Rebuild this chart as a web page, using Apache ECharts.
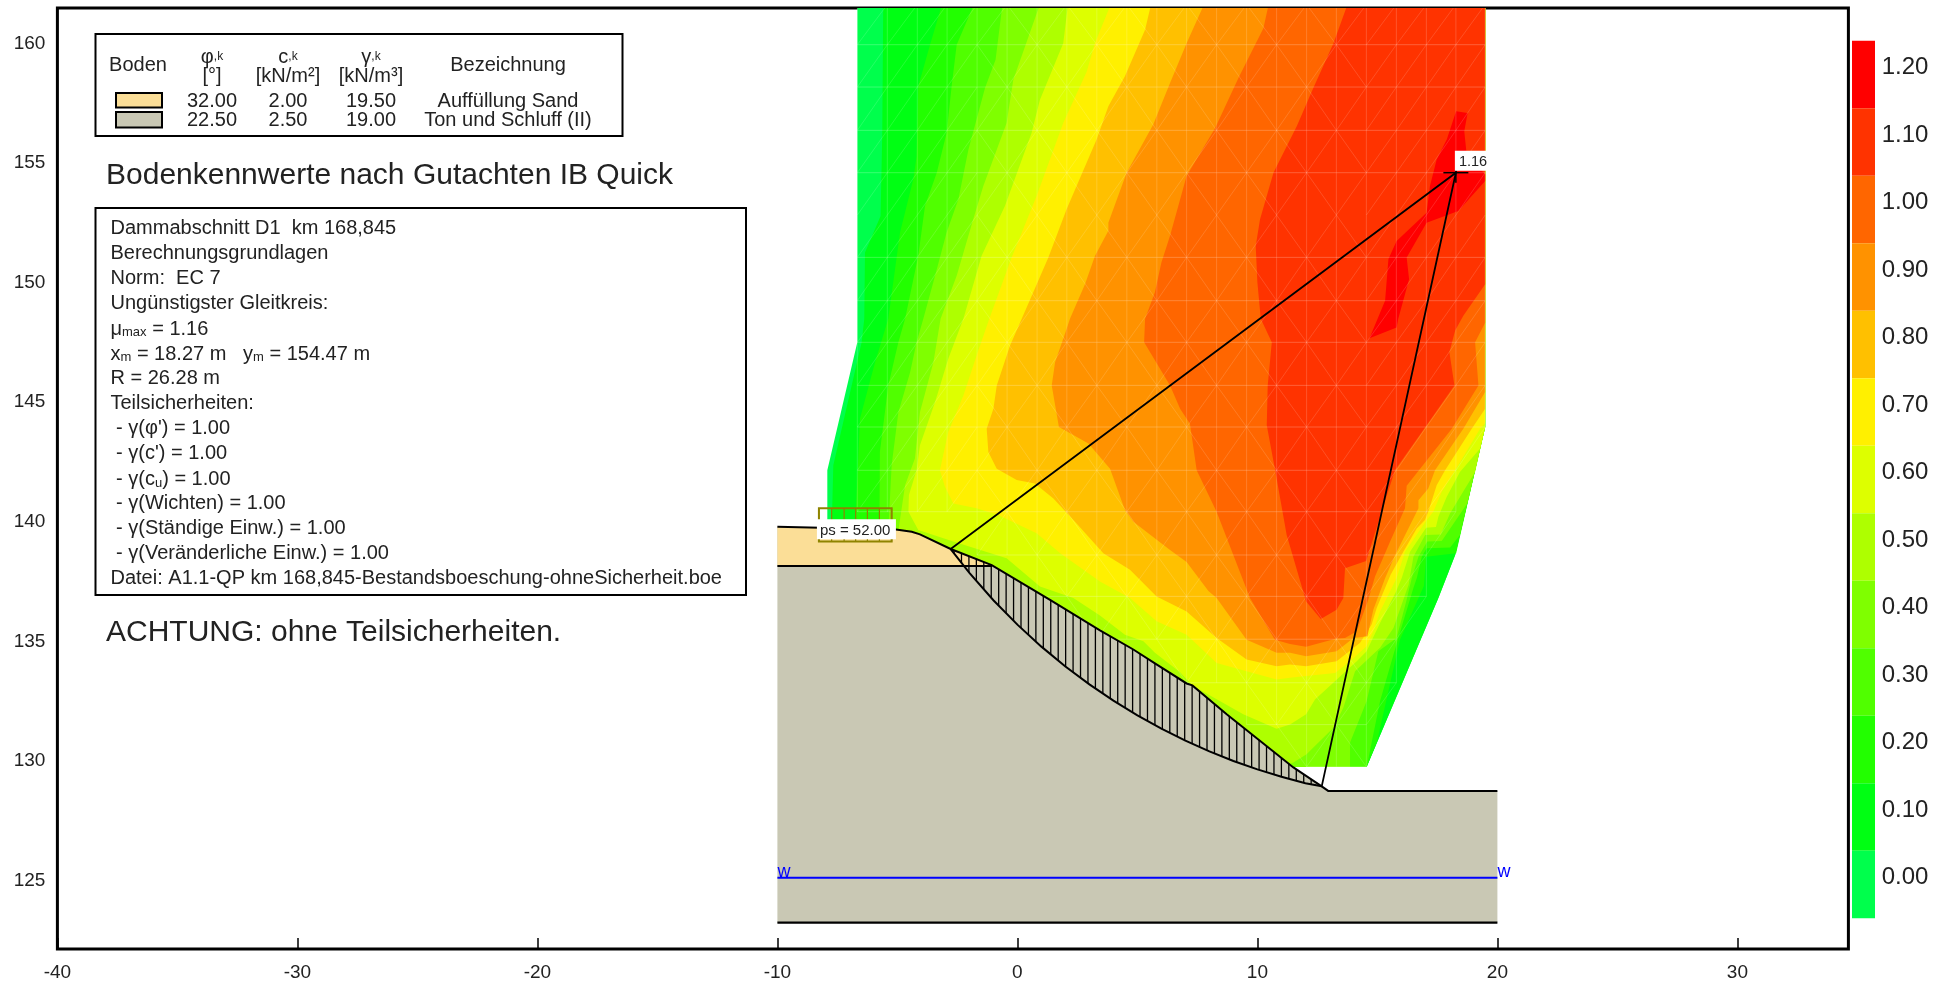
<!DOCTYPE html>
<html><head><meta charset="utf-8">
<style>html,body{margin:0;padding:0;background:#fff}#c{width:1959px;height:982px}</style>
<script src="https://cdn.jsdelivr.net/npm/echarts@6/dist/echarts.min.js"></script>
</head><body><div id="c"></div>
<script>
const xTicks=[-40,-30,-20,-10,0,10,20,30];
const yTicks=[125,130,135,140,145,150,155,160];
const bandLabels=['0.00','0.10','0.20','0.30','0.40','0.50','0.60','0.70','0.80','0.90','1.00','1.10','1.20'];
const bandColors=['#00FF4C','#00FF13','#22FF00','#50FF00','#7FFF00','#AEFF00','#DDFF00','#FFF000','#FFC000','#FF9200','#FF6600','#FF3300','#FF0000'];

const domain=[[-6.67,161.6],[-6.67,147.38],[-7.92,142.03],[-7.92,139],[11.4,129.5],[11.5,129.63],[14.55,129.63],[17.54,136.69],[18.24,138.49],[19.49,143.84],[19.49,161.6]];
const c010=[[-5.59,161.6],[-5.63,156.13],[-5.70,152.66],[-6.35,151.13],[-6.38,148.36],[-6.49,147.38],[-7.67,142.24],[-7.74,139.5],[11.2,129.7],[11.5,129.63],[14.55,129.63],[17.54,136.69],[18.24,138.49],[19.49,143.84],[19.49,161.6]];
const c020=[[-3.11,161.6],[-3.64,159.82],[-4.13,158.08],[-4.20,155.16],[-4.34,154.19],[-4.89,151.97],[-5.38,148.36],[-5.93,146.55],[-6.56,144.19],[-6.63,142.52],[-6.77,139.5],[11.2,129.7],[11.5,129.63],[14.55,129.63],[14.99,130.72],[15.94,134.95],[16.94,137.2],[17.03,138.42],[18.28,138.56],[19.49,143.84],[19.49,161.6]];
const c030=[[-1.77,161.6],[-2.53,159.82],[-2.74,158.08],[-2.95,156.13],[-3.36,154.47],[-3.85,153.08],[-4.13,151.0],[-4.68,148.36],[-4.96,147.38],[-5.38,145.58],[-5.73,142.8],[-5.75,139.5],[11.2,129.7],[11.5,129.63],[14.55,129.63],[14.58,129.75],[15.11,132.38],[15.87,135.02],[16.5,137.11],[16.64,137.52],[16.85,138.42],[17.05,138.77],[18.03,138.8],[18.44,139.33],[19.49,143.84],[19.49,161.6]];
const c040=[[-0.61,161.6],[-0.91,159.19],[-1.35,158.01],[-2.04,155.44],[-2.46,153.36],[-2.95,151.97],[-3.43,150.16],[-3.92,148.36],[-4.2,147.38],[-4.47,146.13],[-4.96,144.46],[-5.24,142.24],[-5.38,139.5],[11.2,129.7],[11.5,129.63],[13.86,129.63],[13.86,130.65],[14.55,132.38],[15.04,134.47],[15.8,135.02],[16.2,136.55],[16.43,137.52],[16.71,138.42],[17.08,139.05],[17.68,139.08],[18.75,140.65],[19.49,143.84],[19.49,161.6]];
const c050=[[0.97,161.6],[-0.17,158.36],[-0.45,156.55],[-1.42,153.91],[-1.84,152.52],[-2.53,150.16],[-3.2,148.36],[-3.5,146.55],[-4.06,144.46],[-4.27,142.52],[-4.68,141.41],[-4.96,139.5],[11.2,129.7],[11.5,129.82],[12.05,130.16],[12.47,130.58],[13.17,131.27],[13.58,132.11],[14.07,133.63],[15.11,134.61],[15.67,135.44],[16.3,137.25],[16.5,138.42],[16.99,139.33],[17.64,139.35],[18.03,140.23],[19.07,141.96],[19.49,143.84],[19.49,161.6]];
const c060=[[2.12,161.6],[1.91,159.88],[0.94,157.52],[0.59,156.13],[-0.52,153.08],[-1.49,151.0],[-2.25,148.36],[-2.88,146.69],[-3.43,144.88],[-4.06,143.08],[-4.2,142.03],[-4.52,141.0],[-4.54,140.3],[-4.13,139.53],[-2.67,139.05],[-0.45,138.35],[0.94,137.17],[2.33,136.69],[3.44,135.96],[4.48,135.16],[5.25,134.88],[5.73,134.4],[6.77,133.6],[7.29,133.04],[9.41,131.83],[10.8,131.23],[11.36,131.41],[12.03,131.83],[12.4,132.45],[13.24,133.22],[14.14,134.05],[14.55,134.47],[15.11,135.65],[15.75,136.9],[16.01,137.52],[16.36,138.63],[17.03,139.63],[17.44,139.66],[17.54,140.09],[17.89,140.92],[18.44,141.96],[19.28,142.94],[19.49,143.84],[19.49,161.6]];
const c070=[[3.93,161.6],[3.23,159.88],[2.89,158.7],[1.91,156.55],[0.8,153.5],[-0.24,150.93],[-1.17,148.36],[-1.7,146.83],[-2.25,145.16],[-2.88,143.63],[-3.23,142.03],[-3.02,141.34],[-2.67,140.64],[-1.7,140.44],[-0.8,140.16],[0.8,139.4],[1.78,138.56],[3.44,137.38],[4.69,136.69],[5.8,135.72],[7.05,135.16],[8.3,133.98],[9.55,133.63],[10.8,133.29],[11.36,133.36],[12.03,133.43],[13.24,133.56],[13.86,134.05],[14.55,134.68],[14.83,135.3],[15.11,136.13],[15.8,137.52],[16.15,138.63],[17.03,139.91],[17.33,140.3],[17.68,141.13],[18.24,142.03],[19.28,143.77],[19.49,144.0],[19.49,161.6]];
const c080=[[5.59,161.6],[5.32,160.44],[4.48,158.5],[3.79,157.25],[3.3,155.86],[2.05,152.94],[1.29,150.92],[0.18,148.36],[-0.31,147.24],[-0.86,145.58],[-1.0,144.6],[-1.28,143.77],[-1.21,142.8],[-0.86,142.1],[-0.03,141.62],[0.73,141.48],[1.5,140.85],[2.4,139.88],[3.58,138.56],[4.69,137.87],[5.8,136.76],[7.05,136.13],[8.3,135.02],[9.55,134.12],[10.8,133.84],[11.36,133.91],[12.03,133.84],[13.3,134.05],[14.28,134.82],[14.76,135.58],[14.97,136.27],[15.55,137.66],[16.08,138.63],[16.64,139.6],[16.98,139.95],[17.12,140.3],[17.47,141.41],[17.82,142.03],[18.93,143.77],[19.49,144.6],[19.49,161.6]];
const c090=[[7.82,161.6],[7.05,159.88],[6.36,158.22],[5.66,156.48],[4.55,154.47],[3.79,152.38],[3.79,152.04],[3.23,150.99],[2.82,149.82],[2.19,148.36],[2.05,147.94],[1.57,146.55],[1.43,145.58],[1.73,143.84],[2.96,143.15],[3.86,142.1],[4.48,140.37],[4.83,139.88],[6.36,138.7],[7.05,138.2],[7.96,136.99],[8.3,136.69],[9.55,134.95],[10.8,134.4],[11.36,134.4],[12.03,134.26],[13.3,134.47],[14.0,135.02],[14.58,135.09],[14.83,136.2],[15.32,137.52],[15.74,138.49],[16.29,139.6],[16.71,140.44],[16.71,140.78],[17.12,141.27],[17.4,142.03],[18.58,143.77],[19.49,145.3],[19.49,161.6]];
const c100=[[10.49,161.6],[10.25,160.51],[9.21,158.43],[8.24,156.34],[7.05,154.33],[6.36,151.83],[6.0,150.72],[5.73,149.47],[5.32,148.36],[5.28,147.38],[6.36,145.58],[6.78,144.6],[7.19,143.98],[7.47,142.03],[8.3,140.3],[9.69,136.69],[10.73,134.95],[11.36,134.77],[12.03,134.65],[13.3,135.0],[13.65,135.02],[14.14,135.3],[14.62,136.62],[14.9,137.59],[15.53,139.05],[16.15,140.44],[16.22,141.38],[18.1,143.77],[19.21,145.58],[19.07,147.38],[19.49,148.2],[19.49,161.6]];
const c110=[[13.79,161.6],[13.17,159.88],[12.33,158.01],[11.64,156.41],[10.67,154.47],[10.11,152.52],[9.93,151.41],[10.0,149.88],[10.14,148.36],[10.6,147.38],[10.43,145.58],[10.39,143.91],[10.74,142.03],[11.22,139.33],[12.03,136.55],[12.64,135.81],[13.3,136.2],[13.58,136.69],[13.65,137.94],[14.53,138.24],[15.31,140.71],[15.73,142.03],[17.05,143.91],[18.21,145.58],[18.0,146.96],[18.24,147.87],[18.58,148.49],[19.49,149.81],[19.49,161.6]];
const c120=[[18.28,157.04],[18.76,156.97],[18.62,156.2],[18.72,155.23],[19.49,154.4],[19.49,154.12],[18.37,152.87],[17.05,152.38],[16.22,150.93],[16.32,150.02],[15.87,148.36],[15.8,148.0],[14.67,147.55],[15.32,149.12],[15.46,150.86],[15.8,151.62],[17.05,152.8],[17.19,153.91],[17.47,155.02],[17.89,155.86]];
const contours=[domain,c010,c020,c030,c040,c050,c060,c070,c080,c090,c100,c110,c120];

const meshColumns=[-6.67,-5.42,-4.17,-2.93,-1.68,-0.43,0.82,2.06,3.31,4.56,5.81,7.05,8.30,9.55,10.80,12.05,13.29,14.54,15.79,17.04,18.27,19.49];
const meshRows=[161.5,159.82,158.05,156.24,154.47,152.7,150.93,149.12,147.38,145.58,143.84,142.03,140.3,138.49,136.76,134.97,133.15,131.4,129.64];
const meshRowsHidden=[161.5,152.7];

const surface=[[-10,139.67],[-5.06,139.56],[-4.4,139.46],[-4.06,139.35],[-2.78,138.74],[-1.07,138.07],[1.36,136.61],[3.44,135.34],[4.83,134.54],[5.73,133.96],[7.05,133.12],[7.29,133.04],[8.72,131.83],[11.5,129.61],[12.68,128.82],[12.95,128.63],[20,128.63]];
const groundBottom=123.12, sandBottom=138.03, waterLevel=125, groundLeft=-10, groundRight=20;
const sandEndX=-1.07;
const slipArc=[[-2.78,138.74],[-2,137.74],[-1,136.60],[0,135.58],[1,134.66],[2,133.83],[3,133.08],[4,132.40],[5,131.79],[6,131.23],[7,130.73],[8,130.28],[9,129.88],[10,129.53],[11,129.22],[12,128.95],[12.68,128.82]];
const hatchX=[-2.64,-2.33,-2.02,-1.71,-1.40,-1.09,-0.78,-0.47,-0.16,0.15,0.46,0.77,1.08,1.39,1.70,2.01,2.32,2.63,2.94,3.25,3.56,3.87,4.18,4.49,4.80,5.11,5.42,5.73,6.04,6.35,6.66,6.97,7.28,7.59,7.90,8.21,8.52,8.83,9.14,9.45,9.76,10.07,10.38,10.69,11.00,11.31,11.62,11.93,12.24,12.55];
const circleCentre=[18.27,154.47], circleValue='1.16';
const radiusEnds=[[-2.78,138.74],[12.68,128.82]];
const loadX=[-8.27,-7.74,-7.22,-6.74,-6.25,-5.75,-5.24];
const loadTop=140.44, loadBottom=139.05, loadText='ps = 52.00';

const soilHead=[['φ,k','[°]'],['c,k','[kN/m²]'],['γ,k','[kN/m³]']];
const soilRows=[['32.00','2.00','19.50','Auffüllung Sand','#FBDE97'],['22.50','2.50','19.00','Ton und Schluff (II)','#C9C8B4']];
const infoLines=['Dammabschnitt D1  km 168,845','Berechnungsgrundlagen','Norm:  EC 7','Ungünstigster Gleitkreis:','{t|μ}{s|max}{t| = 1.16}','{t|x}{s|m}{t| = 18.27 m   y}{s|m}{t| = 154.47 m}','R = 26.28 m','Teilsicherheiten:',' - γ(φ\') = 1.00',' - γ(c\') = 1.00','{t| - γ(c}{s|u}{t|) = 1.00}',' - γ(Wichten) = 1.00',' - γ(Ständige Einw.) = 1.00',' - γ(Veränderliche Einw.) = 1.00','Datei: A1.1-QP km 168,845-Bestandsboeschung-ohneSicherheit.boe'];
const titleNote='Bodenkennwerte nach Gutachten IB Quick', warnNote='ACHTUNG: ohne Teilsicherheiten.';

const FONT='"Liberation Sans",Arial,sans-serif';
const ink='#222';
function interp(line,x){for(let i=1;i<line.length;i++){if(x<=line[i][0]){const a=line[i-1],b=line[i];return a[1]+(b[1]-a[1])*(x-a[0])/(b[0]-a[0]);}}return line[line.length-1][1];}
function inside(p,poly){let c=false;for(let i=0,j=poly.length-1;i<poly.length;j=i++){const a=poly[i],b=poly[j];if((a[1]>p[1])!==(b[1]>p[1])&&p[0]<(b[0]-a[0])*(p[1]-a[1])/(b[1]-a[1])+a[0])c=!c;}return c;}
const outline=domain.map((p,i)=>i==3?[-7.92,139.67]:i==4?[-4.06,139.35]:(i==9||i==10||i==0||i==1)?[p[0]+(i>8?0.02:-0.02),p[1]+(i==10||i==0?0.1:0)]:p);

const T=(text,x,y,size,extra)=>({type:'text',z:20,style:Object.assign({text,x,y,font:size+'px '+FONT,fill:ink,textAlign:'left',textVerticalAlign:'middle'},extra||{})});
const R=(x,y,w,h,fill,lw)=>({type:'rect',z:19,shape:{x,y,width:w,height:h},style:{fill,stroke:'#000',lineWidth:lw}});
const graphic=[R(95.5,34,527,102,'#fff',2),R(95.5,208,650.5,387,'#fff',2)];
graphic.push(T('Boden',138,65.5,20,{textAlign:'center'}),T('Bezeichnung',508,65.5,20,{textAlign:'center'}));
const headX=[212,288,371];
const smallRich={a:{font:'20px '+FONT,fill:ink},b:{font:'12px '+FONT,fill:ink}};
soilHead.forEach((h,i)=>{
  const [g,sub]=h[0].split(',');
  graphic.push({type:'text',z:20,style:{text:'{a|'+g+'}{b|,'+sub+'}',x:headX[i],y:57,textAlign:'center',textVerticalAlign:'middle',rich:smallRich}});
  graphic.push(T(h[1],headX[i],76.5,20,{textAlign:'center'}));
});
const rowY=[101,120],swY=[93,112];
soilRows.forEach((r,i)=>{
  graphic.push(R(116,swY[i],46,i?15.5:14.5,r[4],2));
  graphic.push(T(r[0],212,rowY[i],20,{textAlign:'center'}),T(r[1],288,rowY[i],20,{textAlign:'center'}),T(r[2],371,rowY[i],20,{textAlign:'center'}),T(r[3],508,rowY[i],20,{textAlign:'center'}));
});
graphic.push(T(titleNote,106,175.5,30),T(warnNote,106,632.5,30));
infoLines.forEach((s,i)=>{
  const y=228+i*25.07;
  if(s.indexOf('{')>=0) graphic.push({type:'text',z:20,style:{text:s,x:110.5,y,textAlign:'left',textVerticalAlign:'middle',rich:{t:{font:'20px '+FONT,fill:ink,lineHeight:22,verticalAlign:'bottom'},s:{font:'13px '+FONT,fill:ink,lineHeight:19,verticalAlign:'bottom'}}}});
  else graphic.push(T(s,110.5,y,20));
});
bandLabels.forEach((l,i)=>graphic.push(T(l,1881.7,67.7+67.5*(12-i),24)));

const oneShot=(name,fn,z)=>({type:'custom',name,coordinateSystem:'cartesian2d',clip:true,silent:true,z:z,data:[[0,0]],renderItem:fn});
const pts=(api,list)=>list.map(p=>api.coord(p));
const series=[
 oneShot('contours',(p,api)=>({type:'group',children:contours.map((c,i)=>({type:'polygon',shape:{points:pts(api,c)},style:{fill:bandColors[i]}}))}),2),
 oneShot('mesh',(p,api)=>{
   const kids=[];
   const seg=(a,b,o)=>{const s=api.coord(a),e=api.coord(b);kids.push({type:'line',shape:{x1:s[0],y1:s[1],x2:e[0],y2:e[1]},style:{stroke:'#fff',opacity:o,lineWidth:1}});};
   meshRows.forEach((y,i)=>{
     meshColumns.forEach((x,j)=>{
       const a=[x,y];
       if(!inside(a,outline))return;
       if(j<meshColumns.length-1&&inside([meshColumns[j+1],y],outline)&&meshRowsHidden.indexOf(y)<0)seg(a,[meshColumns[j+1],y],0.22);
       if(i<meshRows.length-1){
         const yn=meshRows[i+1];
         if(inside([x,yn],outline))seg(a,[x,yn],0.17);
         if(j<meshColumns.length-1){
           const nx=meshColumns[j+1];
           const mid=x>=-1.7&&x<14.5;
           if(mid&&(i+j)%2==1){ if(inside([nx,yn],outline))seg(a,[nx,yn],0.14);}
           else if(inside([nx,y],outline)&&inside([x,yn],outline))seg([x,yn],[nx,y],0.14);
         }
       }
     });
   });
   return {type:'group',children:kids};
 },3),
 oneShot('ground',(p,api)=>{
   const bed=surface.concat([[groundRight,groundBottom],[groundLeft,groundBottom]]);
   const sand=surface.filter(q=>q[0]<=sandEndX).concat([[sandEndX,sandBottom],[groundLeft,sandBottom]]);
   return {type:'group',children:[
     {type:'polygon',shape:{points:pts(api,bed)},style:{fill:soilRows[1][4]}},
     {type:'polygon',shape:{points:pts(api,sand)},style:{fill:soilRows[0][4]}}
   ]};
 },4),
 oneShot('hatch',(p,api)=>({type:'group',children:hatchX.map(x=>{const a=api.coord([x,interp(surface,x)]),b=api.coord([x,interp(slipArc,x)]);return {type:'line',shape:{x1:a[0],y1:a[1],x2:b[0],y2:b[1]},style:{stroke:'#000',lineWidth:1.3}};})}),5),
 oneShot('lines',(p,api)=>{
   const L=(list,c,w)=>({type:'polyline',shape:{points:pts(api,list)},style:{stroke:c,lineWidth:w,fill:null}});
   const ce=api.coord(circleCentre);
   return {type:'group',children:[
     L(surface,'#000',2),
     L([[groundLeft,sandBottom],[sandEndX,sandBottom]],'#000',2),
     L([[groundLeft,groundBottom],[groundRight,groundBottom]],'#000',2.2),
     L(slipArc,'#000',2),
     L([radiusEnds[0],circleCentre,radiusEnds[1]],'#000',1.8),
     L([[groundLeft,waterLevel],[groundRight,waterLevel]],'#0000FF',2),
     {type:'line',shape:{x1:ce[0]-12.5,y1:ce[1],x2:ce[0]+12.5,y2:ce[1]},style:{stroke:'#000',lineWidth:1.5}},
     {type:'line',shape:{x1:ce[0],y1:ce[1]-10,x2:ce[0],y2:ce[1]+10},style:{stroke:'#000',lineWidth:1.5}}
   ]};
 },6),
 oneShot('load',(p,api)=>{
   const kids=[];
   const tl=api.coord([loadX[0],loadTop]),br=api.coord([loadX[loadX.length-1],loadBottom]);
   kids.push({type:'rect',shape:{x:tl[0],y:tl[1],width:br[0]-tl[0],height:br[1]-tl[1]},style:{fill:null,stroke:'#8F8400',lineWidth:2}});
   loadX.forEach(x=>{const a=api.coord([x,loadTop]),b=api.coord([x,loadBottom]);kids.push({type:'line',shape:{x1:a[0],y1:a[1],x2:b[0],y2:b[1]},style:{stroke:'#8F8400',lineWidth:1.2}});});
   kids.push({type:'rect',shape:{x:tl[0]-2,y:tl[1]+11,width:79,height:20},style:{fill:'#fff'}});
   kids.push({type:'text',style:{x:tl[0]+1,y:tl[1]+22.5,text:loadText,font:'15px '+FONT,fill:ink,textAlign:'left',textVerticalAlign:'middle'}});
   const ce=api.coord(circleCentre);
   kids.push({type:'rect',shape:{x:ce[0]-1,y:ce[1]-22,width:32,height:20},style:{fill:'#fff'}});
   kids.push({type:'text',style:{x:ce[0]+3,y:ce[1]-10.5,text:circleValue,font:'14.5px '+FONT,fill:ink,textAlign:'left',textVerticalAlign:'middle'}});
   const wl=api.coord([groundLeft,waterLevel]),wr=api.coord([groundRight,waterLevel]);
   kids.push({type:'text',style:{x:wl[0],y:wl[1]+3,text:'w',font:'18px '+FONT,fill:'#0000FF',textAlign:'left',textVerticalAlign:'bottom'}});
   kids.push({type:'text',style:{x:wr[0],y:wr[1]+3,text:'w',font:'18px '+FONT,fill:'#0000FF',textAlign:'left',textVerticalAlign:'bottom'}});
   return {type:'group',children:kids};
 },7),
 {type:'scatter',name:'scale',data:[],silent:true}
];
const chart=echarts.init(document.getElementById('c'),null,{width:1959,height:982});
chart.setOption({
 animation:false,backgroundColor:'#fff',
 grid:{left:57.4,top:8,width:1791,height:944,show:true,borderColor:'#000',borderWidth:3,backgroundColor:'#fff'},
 xAxis:{type:'value',min:-40,max:34.625,axisLine:{show:false},splitLine:{show:false},
   axisTick:{show:true,inside:true,length:11,lineStyle:{color:'#000',width:1.5},customValues:xTicks},
   axisLabel:{fontFamily:'Liberation Sans',fontSize:19,color:ink,margin:14,customValues:xTicks}},
 yAxis:{type:'value',min:122.021,max:161.354,axisLine:{show:false},splitLine:{show:false},
   axisTick:{show:true,inside:true,length:14,lineStyle:{color:'#000',width:1.5},customValues:yTicks},
   axisLabel:{color:ink,margin:12,customValues:yTicks,formatter:'{a|{value}}',rich:{a:{fontFamily:'Liberation Sans',fontSize:19,color:ink,padding:[6,0,0,0]}}}},
 visualMap:{type:'piecewise',seriesIndex:6,left:1852,top:40.7,padding:0,align:'left',itemWidth:23,itemHeight:67.5,itemGap:0,showLabel:false,itemSymbol:'rect',selectedMode:false,hoverLink:false,
   pieces:bandLabels.map((l,i)=>({min:i/10-0.05,max:i/10+0.05,label:l,color:bandColors[i]}))},
 graphic:{elements:graphic},
 series
});
</script></body></html>
